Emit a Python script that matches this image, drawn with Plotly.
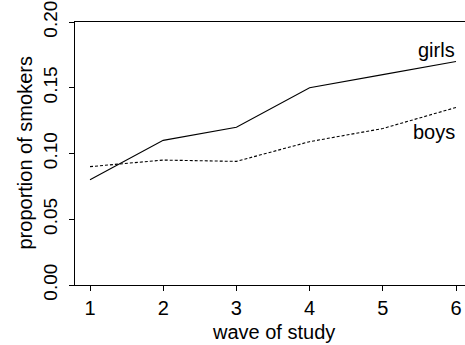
import plotly.graph_objects as go

waves = [1, 2, 3, 4, 5, 6]
girls = [0.080, 0.110, 0.120, 0.150, 0.160, 0.170]
boys = [0.090, 0.095, 0.094, 0.109, 0.119, 0.135]
y_ticks = [0.00, 0.05, 0.10, 0.15, 0.20]
y_tick_labels = ["0.00", "0.05", "0.10", "0.15", "0.20"]

FONT = "Liberation Sans, Arial, Helvetica, sans-serif"
FS = 20
TFS = 19

fig = go.Figure()
fig.add_trace(go.Scatter(x=waves, y=girls, mode="lines",
                         line=dict(color="black", width=1.1), name="girls"))
fig.add_trace(go.Scatter(x=waves, y=boys, mode="lines",
                         line=dict(color="black", width=1.1, dash="3px,2px"), name="boys"))

fig.add_annotation(x=6.01, y=0.179, text="girls", showarrow=False, xanchor="right",
                   yanchor="middle", font=dict(family=FONT, size=FS, color="black"))
fig.add_annotation(x=6.01, y=0.1166, text="boys", showarrow=False, xanchor="right",
                   yanchor="middle", font=dict(family=FONT, size=FS, color="black"))

# axis titles
fig.add_annotation(xref="paper", yref="paper", x=(273 - 75) / 390, y=(285 - 332) / 263,
                   text="wave of study", showarrow=False, xanchor="center", yanchor="middle",
                   font=dict(family=FONT, size=FS, color="black"))
fig.add_annotation(xref="paper", yref="paper", x=(24 - 75) / 390, y=0.5,
                   text="proportion of smokers", showarrow=False, textangle=-90,
                   xanchor="center", yanchor="middle",
                   font=dict(family=FONT, size=FS, color="black"))

fig.update_layout(
    width=465, height=345,
    margin=dict(l=75, r=0, t=22, b=60),
    paper_bgcolor="white", plot_bgcolor="white",
    showlegend=False,
    font=dict(family=FONT, size=FS, color="black"),
    xaxis=dict(range=[0.795, 6.123], tickvals=waves, ticks="outside", ticklen=5,
               tickcolor="black", tickwidth=1, showline=True, linecolor="black",
               linewidth=1, mirror=True, showgrid=False, zeroline=False,
               ticklabelstandoff=0, tickfont=dict(family=FONT, size=FS, color="black")),
    yaxis=dict(range=[0, 0.2], tickvals=y_ticks, ticktext=y_tick_labels, ticks="outside",
               ticklen=5, tickcolor="black", tickwidth=1, showline=True, linecolor="black",
               linewidth=1, showgrid=False, zeroline=False, tickangle=-90,
               ticklabelstandoff=4, tickfont=dict(family=FONT, size=TFS, color="black")),
)

fig.write_html("out.html")
